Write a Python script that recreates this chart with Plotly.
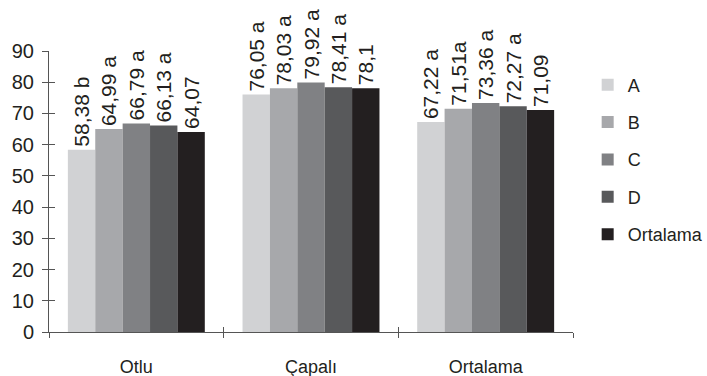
import plotly.graph_objects as go

# Groups on the x axis and the series drawn in each group
categories = ["Otlu", "Çapalı", "Ortalama"]
series_names = ["A", "B", "C", "D", "Ortalama"]

values_A = [58.38, 76.05, 67.22]
values_B = [64.99, 78.03, 71.51]
values_C = [66.79, 79.92, 73.36]
values_D = [66.13, 78.41, 72.27]
values_mean = [64.07, 78.1, 71.09]

# Significance letters appended after each value
letters_A = [" b", " a", " a"]
letters_B = [" a", " a", "a"]
letters_C = [" a", " a", " a"]
letters_D = [" a", " a", " a"]
letters_mean = ["", "", ""]

y_ticks = [0, 10, 20, 30, 40, 50, 60, 70, 80, 90]

colors = ["#d1d2d4", "#a7a8ab", "#808184", "#58595b", "#231f20"]
ink = "#231f20"
axis_color = "#555555"
font_family = "Liberation Sans, Arial, Helvetica, sans-serif"

all_values = [values_A, values_B, values_C, values_D, values_mean]
all_letters = [letters_A, letters_B, letters_C, letters_D, letters_mean]


def fmt(v):
    return f"{v:g}".replace(".", ",")


fig = go.Figure()
for i, (name, vals, lets) in enumerate(zip(series_names, all_values, all_letters)):
    fig.add_trace(go.Bar(
        name=name,
        x=categories,
        y=vals,
        marker=dict(color=colors[i], line=dict(width=0)),
        text=[fmt(v) + s for v, s in zip(vals, lets)],
        textposition="outside",
        textangle=-90,
        textfont=dict(family=font_family, size=21, color=ink),
        constraintext="none",
        cliponaxis=False,
        legendgroup=name,
    ))

# Plain linear overlay axes give the inner half of the cross-style tick marks
fig.add_trace(go.Scatter(x=[None], y=[None], xaxis="x2", yaxis="y2",
                         showlegend=False, hoverinfo="skip"))

fig.update_layout(
    width=707,
    height=376,
    margin=dict(l=49, r=134, t=51, b=44, autoexpand=False),
    paper_bgcolor="white",
    plot_bgcolor="white",
    barmode="group",
    bargap=0.216,
    bargroupgap=0,
    font=dict(family=font_family, color=ink),
    showlegend=True,
    legend=dict(
        x=1.028, xanchor="left",
        y=0.945, yanchor="top",
        traceorder="grouped",
        tracegroupgap=11,
        itemwidth=30,
        font=dict(family=font_family, size=18, color=ink),
        bgcolor="rgba(0,0,0,0)",
    ),
    xaxis=dict(
        type="category",
        tickson="boundaries",
        ticks="outside",
        ticklen=5,
        tickcolor=axis_color,
        showline=True,
        linecolor=axis_color,
        linewidth=1,
        showgrid=False,
        automargin=False,
        tickfont=dict(family=font_family, size=18, color=ink),
        ticklabelstandoff=18,
    ),
    yaxis=dict(
        range=[0, 90],
        tickvals=y_ticks,
        ticks="outside",
        ticklen=6,
        tickcolor=axis_color,
        showline=True,
        linecolor=axis_color,
        linewidth=1,
        showgrid=False,
        zeroline=False,
        automargin=False,
        tickfont=dict(family=font_family, size=20, color=ink),
        ticklabelstandoff=4,
    ),
    xaxis2=dict(
        overlaying="x",
        range=[-0.5, len(categories) - 0.5],
        tickvals=[k - 0.5 for k in range(len(categories) + 1)],
        ticks="inside",
        ticklen=5,
        tickcolor=axis_color,
        showticklabels=False,
        showline=False,
        showgrid=False,
        zeroline=False,
        automargin=False,
        side="bottom",
        anchor="y",
    ),
    yaxis2=dict(
        overlaying="y",
        range=[0, 90],
        tickvals=y_ticks,
        ticks="inside",
        ticklen=6,
        tickcolor=axis_color,
        showticklabels=False,
        showline=False,
        showgrid=False,
        zeroline=False,
        automargin=False,
        side="left",
        anchor="x",
    ),
)

fig.write_html("out.html")
